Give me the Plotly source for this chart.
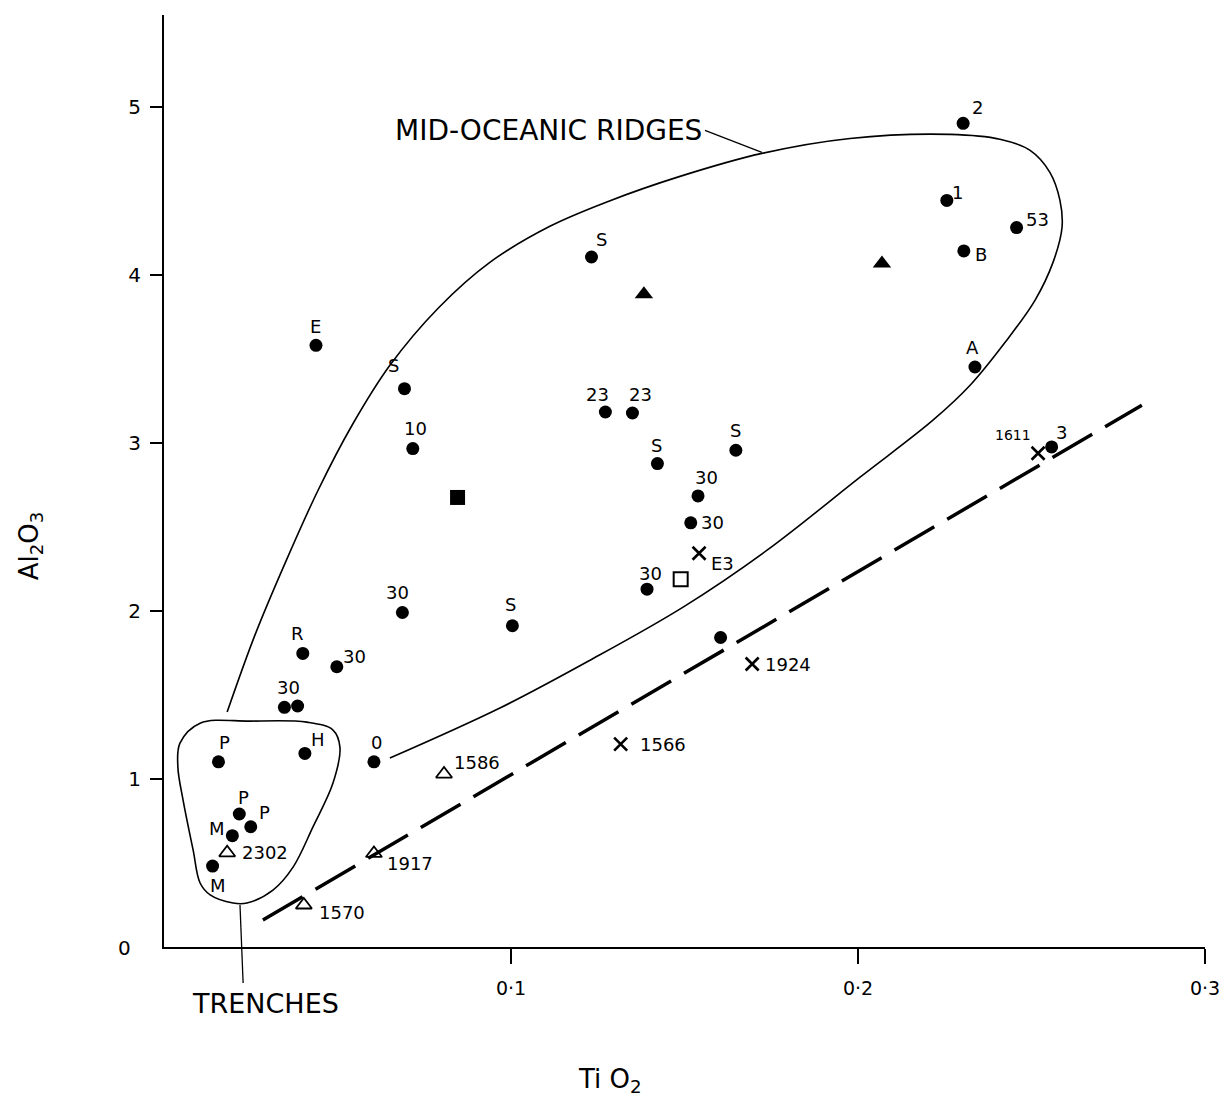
import plotly.graph_objects as go

# ---- sample data: TiO2 (x) vs Al2O3 (y) ----
# filled circles: individual analyses with their locality / sample codes
circ_x = [0.2303, 0.2256, 0.2457, 0.2305, 0.2337, 0.2558, 0.1232, 0.1272, 0.1350,
          0.1422, 0.1648, 0.1539, 0.1518, 0.1392, 0.1604, 0.0438, 0.0693, 0.0717,
          0.0687, 0.1004, 0.0400, 0.0498, 0.0347, 0.0385, 0.0157, 0.0406, 0.0605,
          0.0217, 0.0250, 0.0197, 0.0140]
circ_y = [4.905, 4.446, 4.284, 4.145, 3.454, 2.978, 4.109, 3.186, 3.180,
          2.879, 2.958, 2.686, 2.526, 2.131, 1.843, 3.583, 3.325, 2.968,
          1.992, 1.913, 1.748, 1.669, 1.427, 1.435, 1.103, 1.153, 1.103,
          0.792, 0.716, 0.663, 0.482]
circ_lab = ["2", "1", "53", "B", "A", "3", "S", "23", "23",
            "S", "S", "30", "30", "30", "", "E", "S", "10",
            "30", "S", "R", "30", "", "30", "P", "H", "0",
            "P", "P", "M", "M"]

# open triangles
otri_x = [0.0182, 0.0605, 0.0403, 0.0807]
otri_y = [0.561, 0.557, 0.250, 1.030]
otri_lab = ["2302", "1917", "1570", "1586"]

# crosses
cross_x = [0.2519, 0.1542, 0.1695, 0.1316]
cross_y = [2.940, 2.345, 1.685, 1.208]
cross_lab = ["1611", "E3", "1924", "1566"]

# filled triangles, filled square, open square
ftri_x = [0.1383, 0.2069]
ftri_y = [3.887, 4.070]
fsq_x = [0.0846]
fsq_y = [2.677]
osq_x = [0.1489]
osq_y = [2.190]

# dashed trend line
trend_x = [0.0285, 0.2818]
trend_y = [0.161, 3.226]

# envelope of mid-oceanic ridge samples (open curve)
ridge_x = [0.0182, 0.0262, 0.0349, 0.0444, 0.0542, 0.0651, 0.0790, 0.0939, 0.1112,
           0.1280, 0.1487, 0.1723, 0.1977, 0.2265, 0.2409, 0.2496, 0.2553, 0.2582,
           0.2588, 0.2562, 0.2510, 0.2424, 0.2323, 0.2216, 0.2006, 0.1738, 0.1496,
           0.1228, 0.0968, 0.0651]
ridge_y = [1.399, 1.857, 2.286, 2.720, 3.107, 3.464, 3.804, 4.077, 4.292,
           4.440, 4.589, 4.726, 4.815, 4.839, 4.810, 4.744, 4.613, 4.446,
           4.286, 4.077, 3.851, 3.601, 3.345, 3.137, 2.798, 2.363, 2.024,
           1.708, 1.423, 1.125]

# envelope of trench samples (closed loop)
trench_x = [0.0248, 0.0412, 0.0487, 0.0507, 0.0487, 0.0429, 0.0372, 0.0314, 0.0239,
            0.0199, 0.0133, 0.0104, 0.0084, 0.0055, 0.0040, 0.0046, 0.0104, 0.0248]
trench_y = [1.345, 1.339, 1.292, 1.190, 0.976, 0.714, 0.476, 0.339, 0.262,
            0.262, 0.310, 0.381, 0.577, 0.875, 1.071, 1.214, 1.333, 1.345]

x_ticks = [0.1, 0.2, 0.3]
x_ticktext = ["0·1", "0·2", "0·3"]
y_ticks = [1, 2, 3, 4, 5]

# label placement (pixel offsets from the marker, anchor)
circ_off = [(14, -16), (11, -8), (21, -8), (17, 4), (-2, -19), (10, -14), (10, -17),
            (-8, -17), (8, -18), (-1, -18), (0, -20), (8, -18), (22, 0), (3, -16),
            (0, 0), (0, -19), (-11, -23), (3, -20), (-5, -20), (-2, -21), (-5, -20),
            (18, -10), (0, 0), (-9, -19), (6, -19), (13, -14), (3, -19), (4, -17),
            (14, -14), (-15, -7), (5, 19)]
otri_off = [(13, 0, "left"), (11, 10, "left"), (13, 7, "left"), (8, -12, "left")]
cross_off = [(-25, -18, "center"), (23, 10, "center"), (11, 0, "left"), (17, 0, "left")]

FONT = "DejaVu Sans"
INK = "black"

fig = go.Figure()

fig.add_trace(go.Scatter(x=ridge_x, y=ridge_y, mode="lines",
                         line=dict(color=INK, width=1.6, shape="spline", smoothing=1.0),
                         hoverinfo="skip"))
fig.add_trace(go.Scatter(x=trench_x, y=trench_y, mode="lines",
                         line=dict(color=INK, width=1.6, shape="spline", smoothing=1.0),
                         hoverinfo="skip"))
fig.add_trace(go.Scatter(x=trend_x, y=trend_y, mode="lines",
                         line=dict(color=INK, width=3.5, dash="46px,15px"), hoverinfo="skip"))

fig.add_trace(go.Scatter(x=circ_x, y=circ_y, mode="markers",
                         marker=dict(symbol="circle", size=13, color=INK)))
fig.add_trace(go.Scatter(x=otri_x, y=otri_y, mode="markers",
                         marker=dict(symbol="triangle-up-open", size=14, color=INK,
                                     line=dict(width=1.8, color=INK))))
fig.add_trace(go.Scatter(x=cross_x, y=cross_y, mode="markers",
                         marker=dict(symbol="x-thin", size=13, color=INK,
                                     line=dict(width=2.6, color=INK))))
fig.add_trace(go.Scatter(x=ftri_x, y=ftri_y, mode="markers",
                         marker=dict(symbol="triangle-up", size=16, color=INK)))
fig.add_trace(go.Scatter(x=fsq_x, y=fsq_y, mode="markers",
                         marker=dict(symbol="square", size=15, color=INK)))
fig.add_trace(go.Scatter(x=osq_x, y=osq_y, mode="markers",
                         marker=dict(symbol="square-open", size=14, color=INK,
                                     line=dict(width=2, color=INK))))

ann = []


def point_label(x, y, text, dx, dy, anchor="center", size=18):
    ann.append(dict(x=x, y=y, xref="x", yref="y", text=text, showarrow=False,
                    xshift=dx, yshift=-dy, xanchor=anchor, yanchor="middle",
                    font=dict(family=FONT, size=size, color=INK)))


for x, y, t, (dx, dy) in zip(circ_x, circ_y, circ_lab, circ_off):
    if t:
        point_label(x, y, t, dx, dy)
for x, y, t, (dx, dy, a) in zip(otri_x, otri_y, otri_lab, otri_off):
    point_label(x, y, t, dx, dy, a)
for x, y, t, (dx, dy, a) in zip(cross_x, cross_y, cross_lab, cross_off):
    point_label(x, y, t, dx, dy, a, size=14 if t == "1611" else 18)

# envelope names
ann.append(dict(x=0.1723, y=4.732, xref="x", yref="y", text="MID-OCEANIC RIDGES",
                showarrow=False, xanchor="right", yanchor="middle",
                xshift=-58, yshift=22, font=dict(family=FONT, size=28, color=INK)))
ann.append(dict(x=0.0219, y=0.25, xref="x", yref="y", text="TRENCHES",
                showarrow=False, xanchor="center", yanchor="middle",
                xshift=26, yshift=-98, font=dict(family=FONT, size=27, color=INK)))

# origin label and axis titles
ann.append(dict(x=0, y=0, xref="x", yref="y", text="0", showarrow=False,
                xanchor="center", yanchor="middle", xshift=-40, yshift=-1,
                font=dict(family=FONT, size=20, color=INK)))
ann.append(dict(x=0.428, y=0, xref="paper", yref="paper", text="Ti O<sub>2</sub>",
                showarrow=False, xanchor="center", yanchor="middle", yshift=-133,
                font=dict(family=FONT, size=26, color=INK)))
ann.append(dict(x=0, y=0.43, xref="paper", yref="paper", text="Al<sub>2</sub>O<sub>3</sub>",
                showarrow=False, textangle=-90, xanchor="center", yanchor="middle",
                xshift=-134, font=dict(family=FONT, size=26, color=INK)))

# leader lines from the names to their envelopes
shapes = [
    dict(type="line", xref="x", yref="y", x0=0.1559, y0=4.863, x1=0.1723, y1=4.732,
         line=dict(color=INK, width=1.3)),
    dict(type="line", xref="x", yref="paper", x0=0.0219, y0=0.045, x1=0.0228, y1=-0.0386,
         line=dict(color=INK, width=1.3)),
]

fig.update_layout(
    width=1221, height=1097,
    margin=dict(l=164, r=16, t=15, b=150, autoexpand=False),
    paper_bgcolor="white", plot_bgcolor="white",
    showlegend=False,
    annotations=ann,
    shapes=shapes,
    font=dict(family=FONT, color=INK),
)
fig.update_xaxes(range=[0, 0.3], tickvals=x_ticks, ticktext=x_ticktext, automargin=False,
                 showgrid=False, zeroline=False, showline=True, linecolor=INK, linewidth=2,
                 ticks="outside", ticklen=15, tickwidth=2, tickcolor=INK,
                 tickfont=dict(family=FONT, size=19, color=INK), ticklabelstandoff=8)
fig.update_yaxes(range=[0, 5.55], tickvals=y_ticks, automargin=False,
                 showgrid=False, zeroline=False, showline=True, linecolor=INK, linewidth=2,
                 ticks="outside", ticklen=12, tickwidth=2, tickcolor=INK,
                 tickfont=dict(family=FONT, size=20, color=INK), ticklabelstandoff=5)

fig.write_html("out.html")
